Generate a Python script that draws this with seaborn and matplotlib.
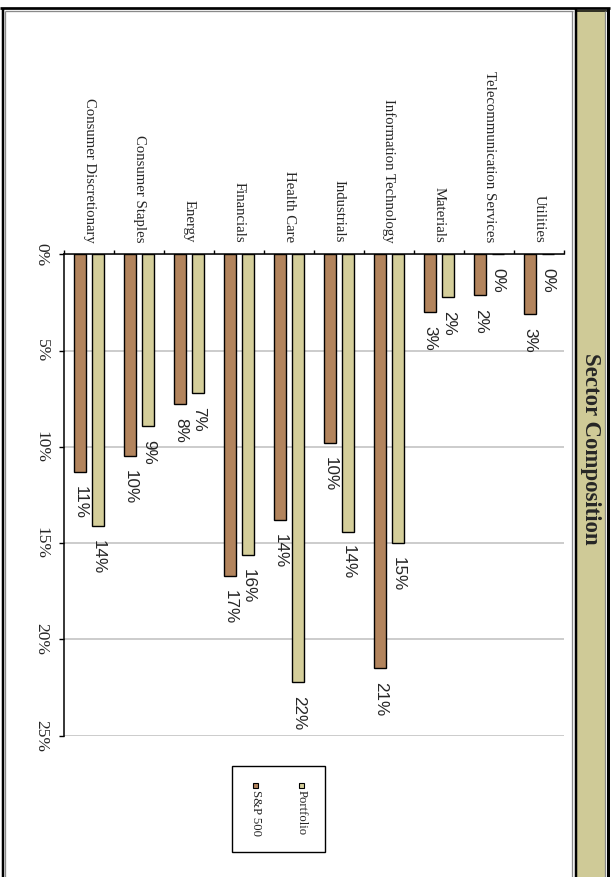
import numpy as np
import pandas as pd
import matplotlib
matplotlib.use("Agg")
import matplotlib.pyplot as plt
import seaborn as sns
from matplotlib.patches import Rectangle
from matplotlib.lines import Line2D

# ---- data ----
sectors = ["Consumer Discretionary", "Consumer Staples", "Energy", "Financials",
           "Health Care", "Industrials", "Information Technology", "Materials",
           "Telecommunication Services", "Utilities"]
sp500 = [11.3, 10.48, 7.8, 16.7, 13.8, 9.8, 21.47, 3.0, 2.1, 3.1]
portfolio = [14.1, 8.9, 7.2, 15.6, 22.2, 14.4, 15.0, 2.2, 0.0, 0.0]
series = ["S&P 500", "Portfolio"]
legend_order = ["Portfolio", "S&P 500"]
colors = ["#b2845d", "#d4ce9a"]
value_ticks = [0, 5, 10, 15, 20, 25]
title = "Sector Composition"

df = pd.DataFrame({
    "Sector": sectors * 2,
    "Value": sp500 + portfolio,
    "Series": [series[0]] * len(sectors) + [series[1]] * len(sectors),
})

W, H = 613, 877
sns.set_style("white")
plt.rcParams["font.family"] = ["Liberation Serif", "DejaVu Sans"]

fig = plt.figure(figsize=(W / 100, H / 100), dpi=100)
fig.patch.set_facecolor("white")

def fx(x):
    return x / W

def fy(y):
    return 1 - y / H

# ---- frame decoration ----
band_color = "#cfca97"
fig.add_artist(Rectangle((fx(576.5), fy(H + 5)), (606 - 576.5) / W, (H + 5 - 10) / H,
                         transform=fig.transFigure, facecolor=band_color, edgecolor="none", zorder=0))

def line(xs, ys, color, lw_px):
    fig.add_artist(Line2D([fx(v) for v in xs], [fy(v) for v in ys], color=color,
                          linewidth=lw_px * 0.72, transform=fig.transFigure,
                          solid_capstyle="butt", zorder=1))

line([0, 609.5], [8, 8], "black", 2.7)
line([3, 3], [8, H + 5], "black", 2.5)
line([607.8, 607.8], [8, H + 5], "black", 3.0)
line([4.5, 573], [11, 11], "#8a8a8a", 1.3)
line([5.2, 5.2], [11, H + 5], "#8a8a8a", 1.3)
line([571.6, 571.6], [11, H + 5], "#8a8a8a", 1.3)
line([575.6, 575.6], [8, H + 5], "black", 2.5)
line([575, 608], [10.5, 10.5], "black", 1.5)
line([605, 605], [11, H + 5], "#8a8a8a", 1.3)

fig.text(fx(590.5), fy(449), title, rotation=270, ha="center", va="center",
         fontfamily="Liberation Serif", fontweight="bold", fontsize=16.5)

# ---- axes ----
ax = fig.add_axes([fx(64.3), fy(735.7), 500 / W, (735.7 - 254.3) / H])
ax.set_facecolor("white")

sns.barplot(data=df, x="Sector", y="Value", hue="Series", hue_order=series,
            order=sectors, palette=colors, saturation=1, edgecolor="black", linewidth=1.0,
            width=0.72, gap=0.33, errorbar=None, legend=False, ax=ax, zorder=3)

ax.set_xlim(-0.5, len(sectors) - 0.5)
ax.set_ylim(25, 0)
ax.set_xlabel("")
ax.set_ylabel("")

ax.spines["right"].set_visible(False)
ax.spines["bottom"].set_visible(False)
ax.spines["top"].set_color("black")
ax.spines["left"].set_color("black")
ax.spines["top"].set_linewidth(1.1)
ax.spines["left"].set_linewidth(1.1)

ax.yaxis.grid(True, color="#c4c4c4", linewidth=1.2)
ax.xaxis.grid(False)
ax.set_axisbelow(True)

# category axis on top
ax.xaxis.tick_top()
ax.set_xticks(range(len(sectors)))
ax.set_xticklabels(sectors, rotation=270, ha="center", va="bottom",
                   fontfamily="Liberation Serif", fontsize=10.6)
ax.set_xticks(np.arange(-0.5, len(sectors) + 0.5, 1), minor=True)
ax.tick_params(axis="x", which="major", length=0, pad=8.5, top=True, bottom=False,
               labeltop=True, labelbottom=False)
ax.tick_params(axis="x", which="minor", length=3.2, width=1.0, direction="out",
               top=True, bottom=False, color="black")

# value axis
ax.set_yticks(value_ticks)
ax.set_yticklabels([f"{v}%" for v in value_ticks], rotation=270, ha="right", va="center",
                   fontfamily="Liberation Serif", fontsize=12.5)
ax.tick_params(axis="y", which="major", length=3.6, width=1.0, direction="out",
               left=True, pad=7, color="black")

# data labels
for h, vals in enumerate([sp500, portfolio]):
    bars = ax.containers[h]
    for bar, v in zip(bars, vals):
        xc = bar.get_x() + bar.get_width() / 2
        ax.annotate(f"{v:.0f}%", xy=(xc, v), xytext=(0, -10), textcoords="offset points",
                    rotation=270, ha="center", va="top",
                    fontfamily="Liberation Sans", fontsize=12.3, zorder=5)

# ---- legend (drawn manually, rotated like the chart) ----
fig.add_artist(Rectangle((fx(231.7), fy(851.7)), (325 - 231.7) / W, (851.7 - 766) / H,
                         transform=fig.transFigure, facecolor="white", edgecolor="black",
                         linewidth=1.0, zorder=2))
legend_x = {"Portfolio": 301.7, "S&P 500": 255.7}
for name in legend_order:
    c = colors[series.index(name)]
    x0 = legend_x[name]
    fig.add_artist(Rectangle((fx(x0 - 2.5), fy(787.5)), 5 / W, 5 / H,
                             transform=fig.transFigure, facecolor=c, edgecolor="black",
                             linewidth=0.8, zorder=3))
    fig.text(fx(x0), fy(790), name, rotation=270, ha="center", va="top",
             fontfamily="Liberation Serif", fontsize=9.2, zorder=3)

fig.savefig("out.png", dpi=100)
